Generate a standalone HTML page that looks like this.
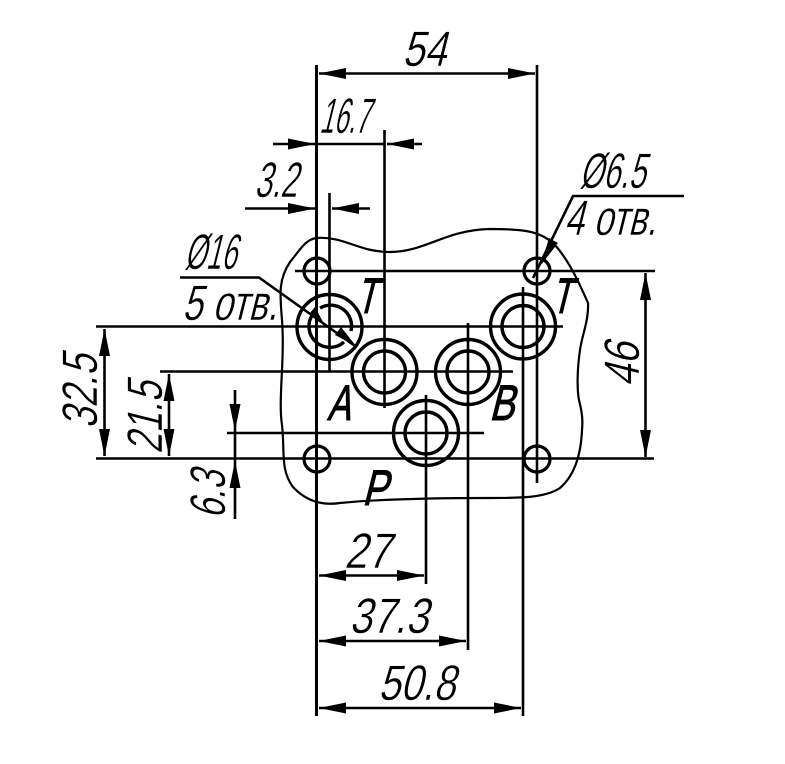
<!DOCTYPE html>
<html><head><meta charset="utf-8"><style>
html,body{margin:0;padding:0;background:#fff}
svg{display:block}
text{font-family:"Liberation Sans",sans-serif;font-size:50px;fill:#000;stroke:#fff;stroke-width:.45px}
text.b{stroke:#000;stroke-width:1.1px}
</style></head><body>
<svg width="785" height="764" viewBox="0 0 785 764" xmlns="http://www.w3.org/2000/svg">
<defs>
<marker id="a" viewBox="0 0 27 11" refX="27" refY="5.5" markerWidth="27" markerHeight="11" markerUnits="userSpaceOnUse" orient="auto-start-reverse"><path d="M0 0L27 5.5L0 11Z" fill="#000"/></marker>
</defs>
<g fill="none" stroke="#000" stroke-width="2.6">
<!-- outline -->
<path d="M316 238C345 236 358 252 390 252C425 252 445 230 490 229C520 229 540 230 555 245C570 262 580 285 588 303C589 320 582 335 580 350C577 370 577 390 579 400C582 412 583 420 582 430C581 455 575 475 560 488C545 498 520 498 490 498C440 498 380 499 340 503C320 506 305 500 293 487C280 470 285 450 282 425C278 400 285 360 282 320C280 295 278 280 290 262C300 250 305 240 316 238Z" stroke-width="2.2"/>
<!-- extension / centre lines -->
<path d="M295 271H655M96 326.5H563M160 371.5H513M227 433H484M96 458.5H654" stroke-width="2.6"/>
<path d="M316.5 65V716" stroke-width="3"/>
<path d="M537 65V483M329.5 193V372M384.5 130V408M426 395V584M468 323V650M523 287V716" stroke-width="2.6"/>
<!-- small holes -->
<circle cx="317" cy="271" r="13" stroke-width="3.2"/>
<circle cx="537" cy="271" r="13" stroke-width="3.2"/>
<circle cx="317" cy="459" r="13" stroke-width="3.2"/>
<circle cx="537" cy="459" r="13" stroke-width="3.2"/>
<!-- ports -->
<g stroke-width="3.4">
<circle cx="329.5" cy="327" r="32.5"/>
<path d="M320 308A21 21 0 0 1 351 331M344 342A21 21 0 0 1 313 314"/>
<circle cx="384.5" cy="372" r="32.5"/><circle cx="384.5" cy="372" r="21"/>
<circle cx="468" cy="372" r="32.5"/><circle cx="468" cy="372" r="21"/>
<circle cx="426" cy="433" r="32.5"/><circle cx="426" cy="433" r="21"/>
<circle cx="523" cy="326.5" r="32.5"/><circle cx="523" cy="326.5" r="21"/>
</g>
<!-- leaders -->
<path d="M180 277.5H259L355 346M684 196H573L533 278"/>
<!-- dimension lines -->
<path d="M319 73.5H535" marker-start="url(#a)" marker-end="url(#a)"/>
<path d="M273 144H315" marker-end="url(#a)"/>
<path d="M315 144H384"/>
<path d="M422 144H387" marker-end="url(#a)"/>
<path d="M245 208.5H315" marker-end="url(#a)"/>
<path d="M370 208.5H332" marker-end="url(#a)"/>
<path d="M645.5 273V457" marker-start="url(#a)" marker-end="url(#a)"/>
<path d="M104.5 329V456" marker-start="url(#a)" marker-end="url(#a)"/>
<path d="M169 374V456" marker-start="url(#a)" marker-end="url(#a)"/>
<path d="M235 390V519"/>
<path d="M319 575.5H424" marker-start="url(#a)" marker-end="url(#a)"/>
<path d="M319 641H466" marker-start="url(#a)" marker-end="url(#a)"/>
<path d="M319 708H521" marker-start="url(#a)" marker-end="url(#a)"/>
</g>
<path d="M323 322L309 314L315 307Z M356 346L335 335L341 327Z M541 265L549 238L558 243Z M235 431L229.5 404H240.5Z M235 461L229.5 488H240.5Z" fill="#000"/>
<!-- labels -->
<g>
<text transform="translate(402 66) skewX(-14)" textLength="44" lengthAdjust="spacingAndGlyphs">54</text>
<text transform="translate(319 133) skewX(-14)" textLength="50" lengthAdjust="spacingAndGlyphs">16.7</text>
<text transform="translate(254 197) skewX(-14)" textLength="43" lengthAdjust="spacingAndGlyphs">3.2</text>
<text transform="translate(184 269) skewX(-14)" textLength="52" lengthAdjust="spacingAndGlyphs">Ø16</text>
<text transform="translate(182 320) skewX(-14)" textLength="95" lengthAdjust="spacingAndGlyphs">5 отв.</text>
<text transform="translate(579 188) skewX(-14)" textLength="66" lengthAdjust="spacingAndGlyphs">Ø6.5</text>
<text transform="translate(564 235) skewX(-14)" textLength="92" lengthAdjust="spacingAndGlyphs">4 отв.</text>
<text class="b" transform="translate(356 313) skewX(-14)" textLength="20" lengthAdjust="spacingAndGlyphs">T</text>
<text class="b" transform="translate(551 313) skewX(-14)" textLength="20" lengthAdjust="spacingAndGlyphs">T</text>
<text class="b" transform="translate(327 420) skewX(-14)" textLength="23" lengthAdjust="spacingAndGlyphs">A</text>
<text class="b" transform="translate(489 420) skewX(-14)" textLength="25" lengthAdjust="spacingAndGlyphs">B</text>
<text class="b" transform="translate(362 505) skewX(-14)" textLength="25" lengthAdjust="spacingAndGlyphs">P</text>
<text transform="translate(344 568) skewX(-14)" textLength="46" lengthAdjust="spacingAndGlyphs">27</text>
<text transform="translate(349 633) skewX(-14)" textLength="79" lengthAdjust="spacingAndGlyphs">37.3</text>
<text transform="translate(378 700) skewX(-14)" textLength="77" lengthAdjust="spacingAndGlyphs">50.8</text>
<text transform="translate(639 387) rotate(-90) skewX(-14)" textLength="44" lengthAdjust="spacingAndGlyphs">46</text>
<text transform="translate(97 429) rotate(-90) skewX(-14)" textLength="74" lengthAdjust="spacingAndGlyphs">32.5</text>
<text transform="translate(162 454) rotate(-90) skewX(-14)" textLength="72" lengthAdjust="spacingAndGlyphs">21.5</text>
<text transform="translate(225 519) rotate(-90) skewX(-14)" textLength="48" lengthAdjust="spacingAndGlyphs">6.3</text>
</g>
</svg>
</body></html>
